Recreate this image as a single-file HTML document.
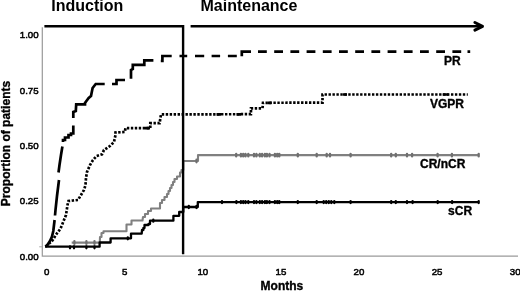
<!DOCTYPE html>
<html lang="en"><head><meta charset="utf-8"><title>Response over time</title>
<style>
html,body{margin:0;padding:0;background:#fff;}
body{width:520px;height:291px;overflow:hidden;}
svg{display:block;font-family:"Liberation Sans", Arial, Helvetica, sans-serif;}
.t{font-size:9.7px;font-weight:normal;fill:#000;stroke:#000;stroke-width:0.5px;}
.l{font-size:12px;font-weight:bold;fill:#000;stroke:#000;stroke-width:0.35px;}
.h{font-size:16px;font-weight:bold;fill:#000;}
</style></head><body>
<svg width="520" height="291" viewBox="0 0 520 291">
<rect x="0" y="0" width="520" height="291" fill="#fff"/>
<path d="M42.3 27.3V256.2H518" fill="none" stroke="#9a9a9a" stroke-width="1.2"/>
<path d="M39.2 246.8H42.3" fill="none" stroke="#aaa" stroke-width="1"/>
<text class="h" transform="matrix(1 0.0004 0 1 51.3 11.3)">Induction</text>
<text class="h" transform="matrix(1 0.0004 0 1 200.5 11.3)">Maintenance</text>
<text class="t" transform="matrix(1 0.0004 0 1 38.6 38.5)" text-anchor="end">1.00</text>
<text class="t" transform="matrix(1 0.0004 0 1 38.6 93.9)" text-anchor="end">0.75</text>
<text class="t" transform="matrix(1 0.0004 0 1 38.6 149.3)" text-anchor="end">0.50</text>
<text class="t" transform="matrix(1 0.0004 0 1 38.6 204.5)" text-anchor="end">0.25</text>
<text class="t" transform="matrix(1 0.0004 0 1 38.6 260.1)" text-anchor="end">0.00</text>
<text class="t" transform="matrix(1 0.0004 0 1 46.6 274.6)" text-anchor="middle">0</text>
<text class="t" transform="matrix(1 0.0004 0 1 124.7 274.6)" text-anchor="middle">5</text>
<text class="t" transform="matrix(1 0.0004 0 1 202.8 274.6)" text-anchor="middle">10</text>
<text class="t" transform="matrix(1 0.0004 0 1 280.9 274.6)" text-anchor="middle">15</text>
<text class="t" transform="matrix(1 0.0004 0 1 359.0 274.6)" text-anchor="middle">20</text>
<text class="t" transform="matrix(1 0.0004 0 1 437.1 274.6)" text-anchor="middle">25</text>
<text class="t" transform="matrix(1 0.0004 0 1 515.2 274.6)" text-anchor="middle">30</text>
<text class="l" transform="matrix(1 0.0004 0 1 260.6 290.4)">Months</text>
<text class="l" transform="translate(10.3 206.2) rotate(-90)">Proportion of patients</text>
<path d="M71.7,242.6 L99.8,242.6 L100,237 L101.5,237 L101.5,233 L103.5,233 L103.5,231.3 L126.5,231.3 L126.5,224.5 L131.5,224.5 L131.5,220.5 L142.5,220.5 L143,217 L145,217 L145,214 L148,214 L148,211 L151,211 L151,208.5 L160,208.5 L160,203 L162,203 L162,200 L164.5,200 L164.5,197 L167,197 L167,194 L168.5,194 L168.5,191 L170,191 L170,188 L171.5,188 L171.5,185 L173,185 L173,182 L174.5,182 L174.5,179 L177,179 L177,176.5 L180,176.5 L180,172.5 L181.5,172.5 L181.5,170 L183.3,170 L183.3,161 L198,161 L198,155.1 L478.3,155.1" fill="none" stroke="#808080" stroke-width="2.1" stroke-linejoin="round"/>
<path d="M74.4,241.2V243.9M86.4,241.2V243.9M94.5,241.2V243.9M196.5,159.7V162.3M236.2,153.8V156.4M240.9,153.8V156.4M243.2,153.8V156.4M245.5,153.8V156.4M248.3,153.8V156.4M254.0,153.8V156.4M256.4,153.8V156.4M259.8,153.8V156.4M262.1,153.8V156.4M264.9,153.8V156.4M266.9,153.8V156.4M269.5,153.8V156.4M274.9,153.8V156.4M277.2,153.8V156.4M279.3,153.8V156.4M297.8,153.8V156.4M316.7,153.8V156.4M326.7,153.8V156.4M330.0,153.8V156.4M350.6,153.8V156.4M391.2,153.8V156.4M395.8,153.8V156.4M407.0,153.8V156.4M412.1,153.8V156.4M437.6,153.8V156.4M451.9,153.8V156.4M478.7,153.8V156.4" fill="none" stroke="#707070" stroke-width="2.3" stroke-linecap="round"/>
<path d="M45,246.7 L99.6,246.7 L99.6,242.5 L110.6,242.5 L110.6,238.3 L131,238.3 L131,233.6 L141.7,233.6 L142,230 L143.4,230 L143.4,228 L144.5,228 L144.5,225 L148.5,225 L148.5,224 L150,224 L150,220.7 L173.4,220.7 L173.4,215.8 L179.2,215.8 L179.2,212 L183.3,212 L183.3,207 L197.8,207 L197.8,202.1 L479,202.1" fill="none" stroke="#000" stroke-width="2.3" stroke-linejoin="round"/>
<path d="M70.0,246.3V248.3M74.0,246.3V248.3M86.4,246.3V248.3M94.5,246.3V248.3M127.8,237.3V239.3M153.3,219.7V221.7M188.8,206.0V208.0M196.5,206.0V208.0M222.0,201.1V203.1M236.4,201.1V203.1M240.9,201.1V203.1M243.2,201.1V203.1M245.5,201.1V203.1M248.3,201.1V203.1M254.0,201.1V203.1M256.4,201.1V203.1M259.8,201.1V203.1M262.1,201.1V203.1M264.9,201.1V203.1M266.9,201.1V203.1M269.5,201.1V203.1M274.9,201.1V203.1M277.2,201.1V203.1M279.3,201.1V203.1M297.8,201.1V203.1M316.7,201.1V203.1M323.7,201.1V203.1M326.2,201.1V203.1M328.8,201.1V203.1M331.3,201.1V203.1M334.3,201.1V203.1M350.6,201.1V203.1M391.2,201.1V203.1M395.8,201.1V203.1M407.0,201.1V203.1M412.6,201.1V203.1M437.7,201.1V203.1M452.1,201.1V203.1M478.7,201.1V203.1" fill="none" stroke="#000" stroke-width="2.3" stroke-linecap="round"/>
<path d="M46,246.5 L48,244.5 L52.3,240.7 L56.5,234 L60.4,228.8 L62,225 L66,215 L67.5,205 L68.5,201 L73,200.5 L78,200 L81,195 L84,190 L85.5,185 L86,178 L87,172 L90,165 L93,160 L96.5,156 L102,154.3 L104,150 L110,146 L114,142 L115.5,135 L115.5,132.5 L124.8,132 L125.5,128.2 L150.3,128.2 L150.3,123.2 L159.6,123.2 L161,114.4 L250.9,114.2 L251,108.3 L262.5,108.3 L263,102.8 L322.5,102.6 L322.5,94.5 L467.8,94.5" fill="none" stroke="#000" stroke-width="2.7" stroke-dasharray="2.4 1.55"/>
<path d="M442.6,94.5H448.7M145,128.2H150M216.5,114.3H221M236.5,114.3H241M268,102.8H271.5M343,94.5H347" fill="none" stroke="#000" stroke-width="2.7"/>
<path d="M45.3,246.6 L47,245.5 L50,241 L52,236.5 L53.3,231 L54.6,220 M55,215.5 L55.5,210 L57,196 L59,180 M58.5,172.5 L59.5,165 L61,155 L62.4,146.5 M63,142 L63,140 L65,140 L65,137.5 L68.5,137.5 L68.5,135 L71,135 L71,133.5 L73.3,133.5 L73.3,125.5 M73.3,118 L73.3,112 L75.8,111 L76.2,104.4 L85,104.4 L85,103 L86.4,101 L88.7,97.9 L91,96 L92.6,88 L95.7,84 L104.7,84 M112,84 L116.5,84 L116.5,80 L125,80 M131,78.7 L131,70 L132.8,69 L132.8,64.8 L144.3,64.8 L144.3,60.4 L153.4,60.4 M160.8,61 L162.4,61 L162.4,56 L171.7,56 M179.5,56H187.2 M195,56H204.2 M211.6,56H220.1 M227.9,56H236.8 M241.8,56.2 L241.8,51.7 L251,51.7 M258.0,51.7H266.8 M274.2,51.7H283.0 M290.4,51.7H299.2 M306.6,51.7H315.4 M322.8,51.7H331.6 M339.0,51.7H347.8 M355.2,51.7H364.0 M371.4,51.7H380.2 M387.6,51.7H396.4 M403.8,51.7H412.6 M420.0,51.7H428.8 M436.2,51.7H445.0 M452.4,51.7H461.2 M467.5,51.7H470.2" fill="none" stroke="#000" stroke-width="2.7"/>
<path d="M44.4 26.2H183.1V254.3" fill="none" stroke="#000" stroke-width="2.4" stroke-linejoin="miter"/>
<path d="M190.6 26.3H481.5" fill="none" stroke="#000" stroke-width="2.6"/>
<path d="M474.9 22.5L482.5 26.3L474.9 30.1" fill="none" stroke="#000" stroke-width="3" stroke-linejoin="round" stroke-linecap="round"/>
<text class="l" transform="matrix(1 0.0004 0 1 460.7 65.2)" text-anchor="end">PR</text>
<text class="l" transform="matrix(1 0.0004 0 1 463.9 108.5)" text-anchor="end">VGPR</text>
<text class="l" transform="matrix(1 0.0004 0 1 465.3 168.3)" text-anchor="end">CR/nCR</text>
<text class="l" transform="matrix(1 0.0004 0 1 472.1 215.5)" text-anchor="end">sCR</text>
</svg></body></html>
